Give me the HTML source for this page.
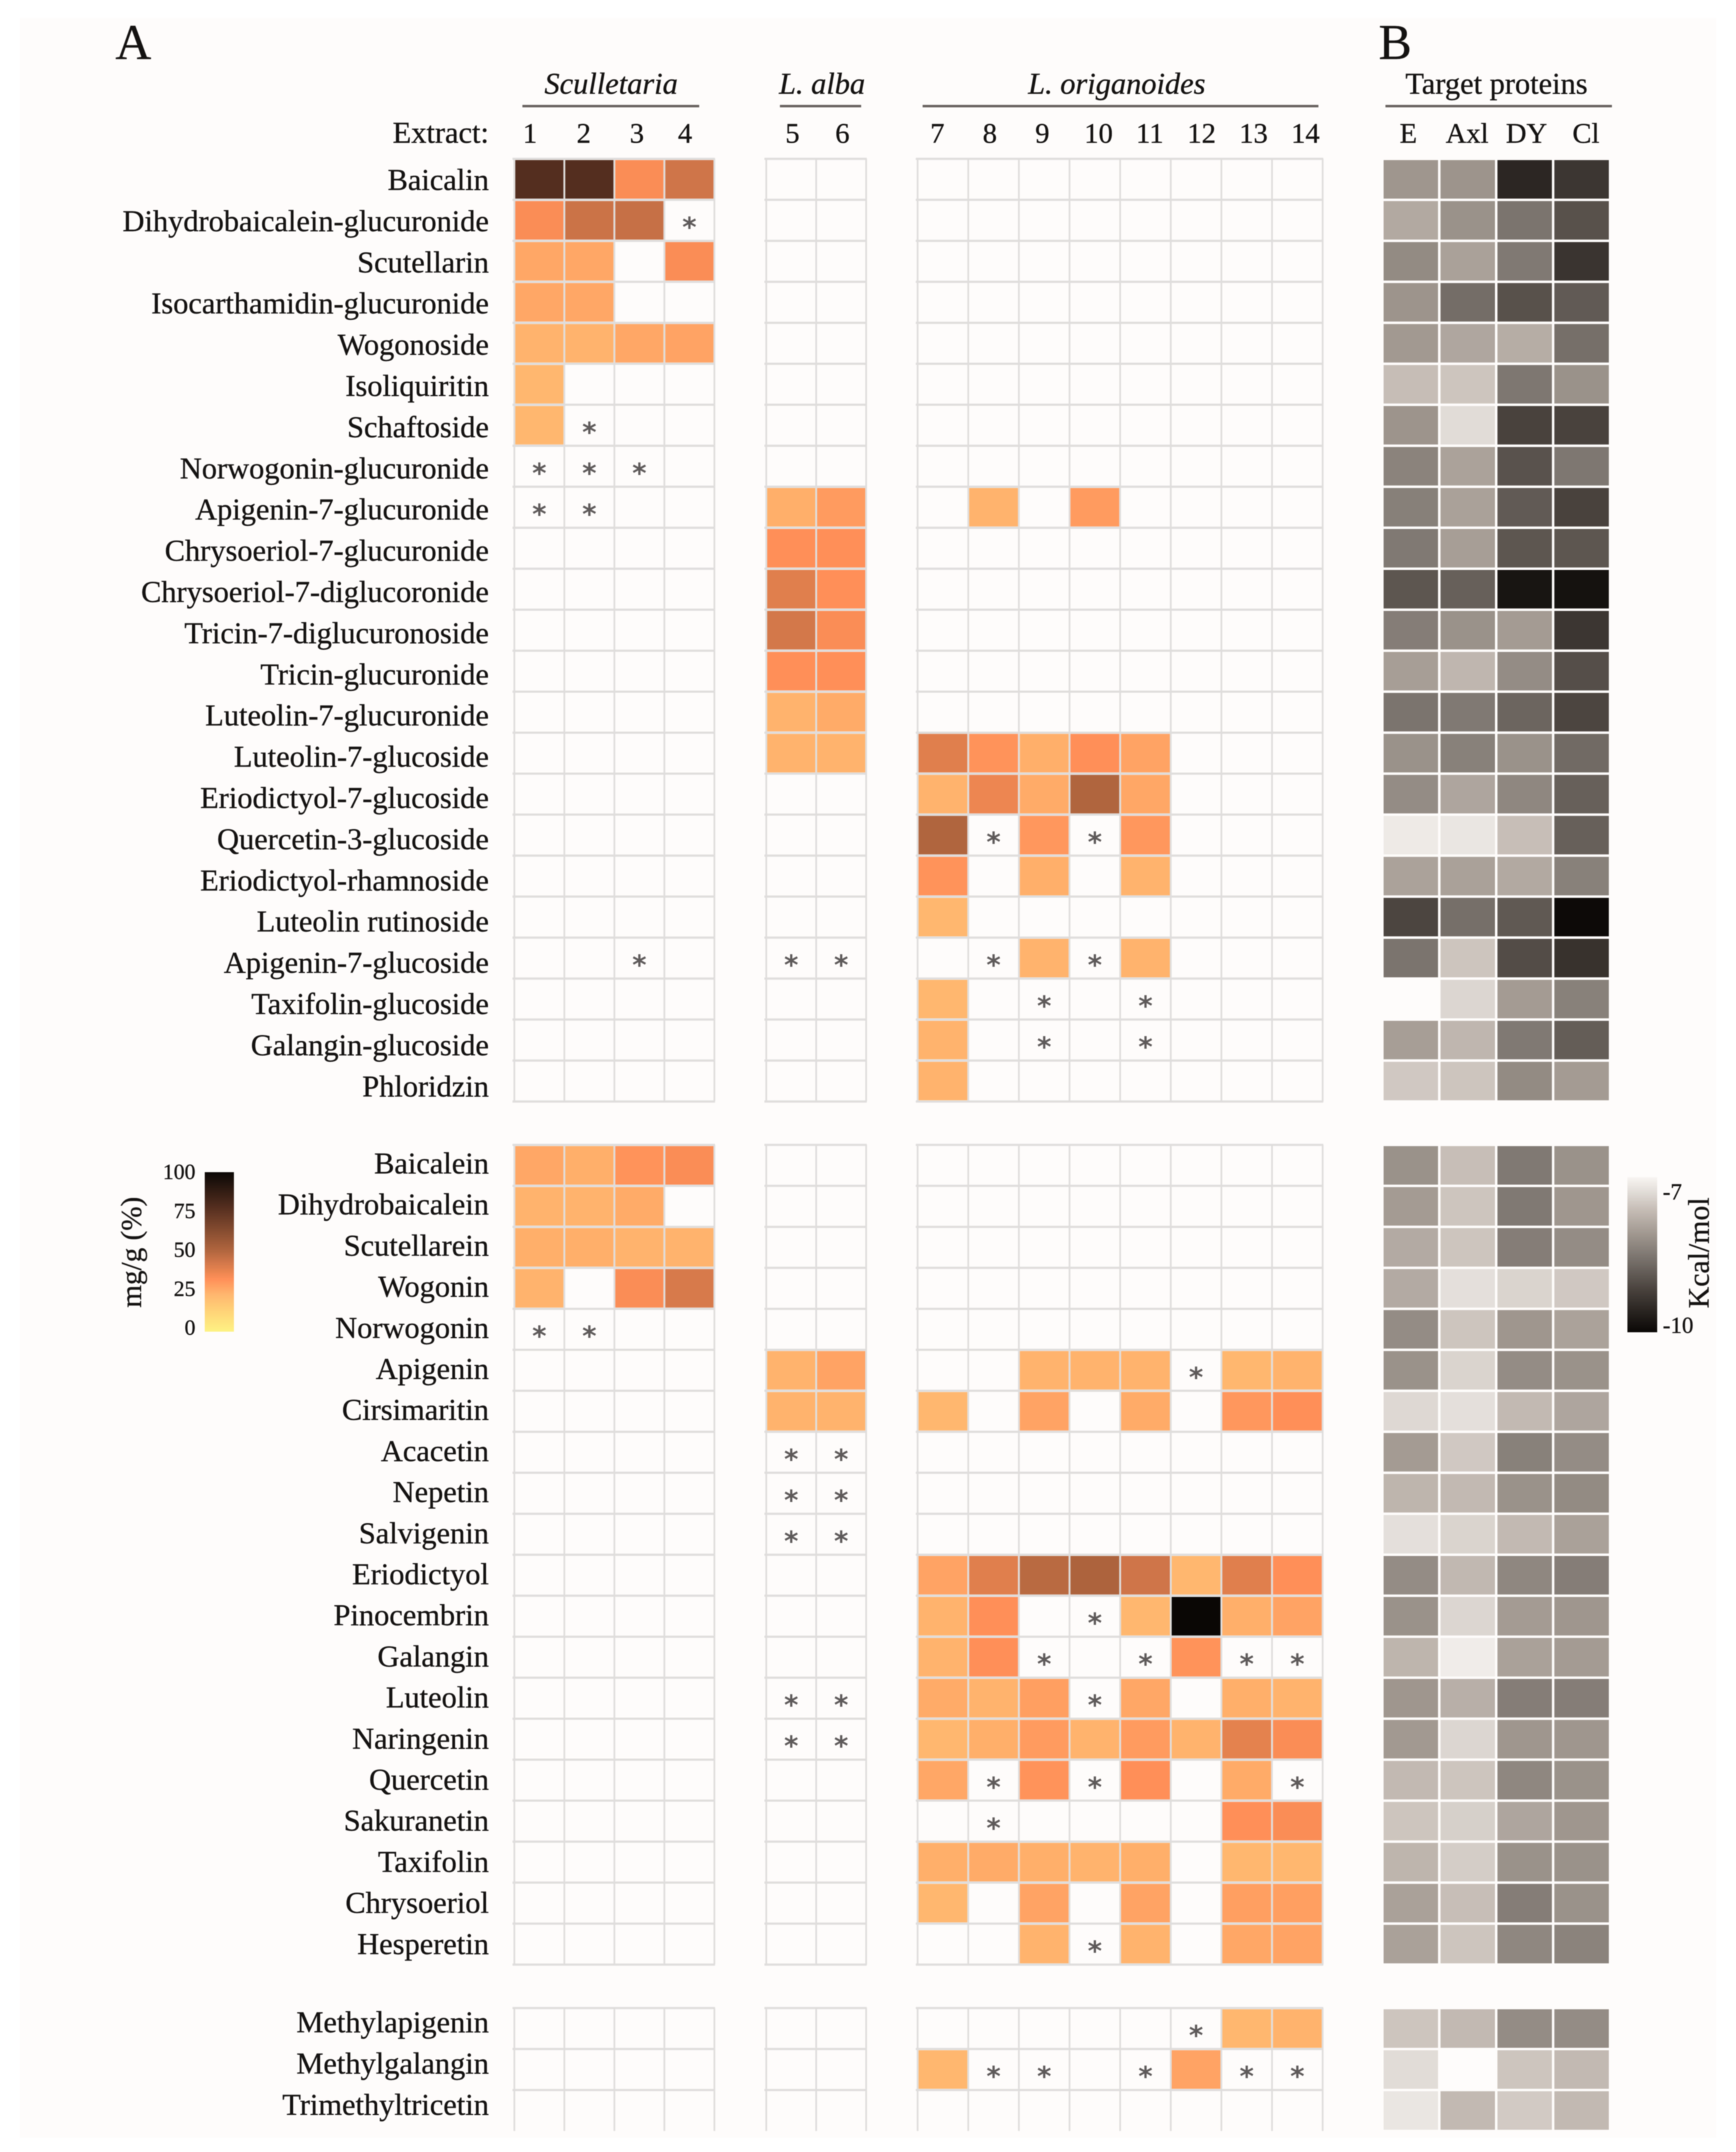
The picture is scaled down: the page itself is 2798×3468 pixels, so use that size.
<!DOCTYPE html>
<html lang="en">
<head>
<meta charset="utf-8">
<title>Flavonoid content and docking heatmaps</title>
<style>
html,body{margin:0;padding:0;background:#fff;width:2798px;height:3468px;overflow:hidden}
svg{display:block;filter:blur(0.7px)}
text{font-family:"Liberation Serif",serif;fill:#141211;stroke:#141211;stroke-width:0.45}
</style>
</head>
<body>
<svg id="chart" xmlns="http://www.w3.org/2000/svg" width="2798" height="3468" viewBox="0 0 2798 3468">
  <defs id="defs"></defs>
  <rect x="32" y="29" width="2734" height="3416" fill="#fefcfb"/>
  <text x="186" y="95" font-size="80">A</text>
  <text x="2222" y="95" font-size="80">B</text>
  <text x="985" y="151" font-size="49" font-style="italic" text-anchor="middle">Sculletaria</text>
  <text x="1325" y="151" font-size="49" font-style="italic" text-anchor="middle">L. alba</text>
  <text x="1800" y="151" font-size="49" font-style="italic" text-anchor="middle">L. origanoides</text>
  <text x="2412" y="151" font-size="49" text-anchor="middle">Target proteins</text>
  <rect x="842" y="169" width="285" height="4" fill="#68625f"/>
  <rect x="1257" y="169" width="131" height="4" fill="#68625f"/>
  <rect x="1487" y="169" width="638" height="4" fill="#68625f"/>
  <rect x="2233" y="169" width="365" height="4" fill="#68625f"/>
  <text x="788" y="230" font-size="49" text-anchor="end">Extract:</text>
  <rect x="330" y="1889" width="47" height="257" fill="url(#orangeGradient)"/>
  <rect x="2623" y="1897" width="48" height="250" fill="url(#grayGradient)"/>
  <text transform="translate(227,2018) rotate(-90)" font-size="47" text-anchor="middle">mg/g (%)</text>
  <text transform="translate(2754,2019) rotate(-90)" font-size="48" text-anchor="middle">Kcal/mol</text>
  <g id="layer-grid"></g>
  <g id="layer-cells"></g>
  <g id="layer-gray"></g>
  <g id="layer-marks"></g>
  <g id="layer-text"></g>
</svg>
<script>
const _ = null, T = '*';

const extractLabels = ['1','2','3','4','5','6','7','8','9','10','11','12','13','14'];
const proteinLabels = ['E','Axl','DY','Cl'];
const contentTicks = [0,25,50,75,100];
const energyTicks = [-7,-10];

const glycosideNames = ['Baicalin','Dihydrobaicalein-glucuronide','Scutellarin','Isocarthamidin-glucuronide','Wogonoside','Isoliquiritin','Schaftoside','Norwogonin-glucuronide','Apigenin-7-glucuronide','Chrysoeriol-7-glucuronide','Chrysoeriol-7-diglucoronide','Tricin-7-diglucuronoside','Tricin-glucuronide','Luteolin-7-glucuronide','Luteolin-7-glucoside','Eriodictyol-7-glucoside','Quercetin-3-glucoside','Eriodictyol-rhamnoside','Luteolin rutinoside','Apigenin-7-glucoside','Taxifolin-glucoside','Galangin-glucoside','Phloridzin'];
const aglyconeNames = ['Baicalein','Dihydrobaicalein','Scutellarein','Wogonin','Norwogonin','Apigenin','Cirsimaritin','Acacetin','Nepetin','Salvigenin','Eriodictyol','Pinocembrin','Galangin','Luteolin','Naringenin','Quercetin','Sakuranetin','Taxifolin','Chrysoeriol','Hesperetin'];
const methylatedNames = ['Methylapigenin','Methylgalangin','Trimethyltricetin'];

const glycosideValues = [
[78,78,34,44,_,_,_,_,_,_,_,_,_,_],
[34,45,46,T,_,_,_,_,_,_,_,_,_,_],
[27,27,_,34,_,_,_,_,_,_,_,_,_,_],
[27,27,_,_,_,_,_,_,_,_,_,_,_,_],
[24,24,27,28,_,_,_,_,_,_,_,_,_,_],
[23,_,_,_,_,_,_,_,_,_,_,_,_,_],
[23,T,_,_,_,_,_,_,_,_,_,_,_,_],
[T,T,T,_,_,_,_,_,_,_,_,_,_,_],
[T,T,_,_,25,30,_,24,_,30,_,_,_,_],
[_,_,_,_,33,33,_,_,_,_,_,_,_,_],
[_,_,_,_,40,33,_,_,_,_,_,_,_,_],
[_,_,_,_,43,34,_,_,_,_,_,_,_,_],
[_,_,_,_,33,33,_,_,_,_,_,_,_,_],
[_,_,_,_,24,26,_,_,_,_,_,_,_,_],
[_,_,_,_,24,24,40,32,25,33,28,_,_,_],
[_,_,_,_,_,_,24,37,26,51,27,_,_,_],
[_,_,_,_,_,_,51,T,31,T,31,_,_,_],
[_,_,_,_,_,_,32,_,25,_,24,_,_,_],
[_,_,_,_,_,_,23,_,_,_,_,_,_,_],
[_,_,T,_,T,T,_,T,24,T,24,_,_,_],
[_,_,_,_,_,_,23,_,T,_,T,_,_,_],
[_,_,_,_,_,_,24,_,T,_,T,_,_,_],
[_,_,_,_,_,_,24,_,_,_,_,_,_,_]
];
const aglyconeValues = [
[27,25,32,34,_,_,_,_,_,_,_,_,_,_],
[24,24,26,_,_,_,_,_,_,_,_,_,_,_],
[25,25,24,24,_,_,_,_,_,_,_,_,_,_],
[24,_,34,42,_,_,_,_,_,_,_,_,_,_],
[T,T,_,_,_,_,_,_,_,_,_,_,_,_],
[_,_,_,_,24,28,_,_,24,24,24,T,23,24],
[_,_,_,_,24,24,23,_,28,_,26,_,31,33],
[_,_,_,_,T,T,_,_,_,_,_,_,_,_],
[_,_,_,_,T,T,_,_,_,_,_,_,_,_],
[_,_,_,_,T,T,_,_,_,_,_,_,_,_],
[_,_,_,_,_,_,28,40,49,52,44,23,40,33],
[_,_,_,_,_,_,24,33,_,T,23,100,25,28],
[_,_,_,_,_,_,24,33,T,_,T,32,T,T],
[_,_,_,_,T,T,26,24,29,T,27,_,25,24],
[_,_,_,_,T,T,23,25,30,24,30,24,39,34],
[_,_,_,_,_,_,27,T,32,T,33,_,26,T],
[_,_,_,_,_,_,_,T,_,_,_,_,33,34],
[_,_,_,_,_,_,25,26,25,24,25,_,23,23],
[_,_,_,_,_,_,23,_,28,_,28,_,29,29],
[_,_,_,_,_,_,_,_,24,T,24,_,27,28]
];
const methylatedValues = [
[_,_,_,_,_,_,_,_,_,_,_,T,23,24],
[_,_,_,_,_,_,23,T,T,_,T,28,T,T],
[_,_,_,_,_,_,_,_,_,_,_,_,_,_]
];

const glycosideEnergy = [
[-8.11,-8.14,-9.56,-9.34],
[-7.88,-8.17,-8.55,-8.99],
[-8.26,-7.98,-8.49,-9.37],
[-8.14,-8.64,-8.99,-8.87],
[-8.08,-7.91,-7.83,-8.61],
[-7.63,-7.54,-8.51,-8.17],
[-8.14,-7.29,-9.18,-9.18],
[-8.36,-7.96,-8.97,-8.51],
[-8.40,-7.98,-8.87,-9.18],
[-8.49,-8.01,-8.93,-8.93],
[-8.93,-8.80,-9.81,-9.85],
[-8.43,-8.17,-8.05,-9.34],
[-8.01,-7.71,-8.24,-9.02],
[-8.55,-8.49,-8.74,-9.14],
[-8.17,-8.39,-8.17,-8.68],
[-8.24,-7.92,-8.30,-8.80],
[-7.13,-7.17,-7.61,-8.80],
[-7.96,-7.98,-7.88,-8.39],
[-9.14,-8.61,-8.89,-9.96],
[-8.55,-7.54,-9.05,-9.40],
[_,-7.35,-8.05,-8.39],
[-8.01,-7.71,-8.49,-8.84],
[-7.50,-7.54,-8.26,-8.05]
];
const aglyconeEnergy = [
[-8.17,-7.61,-8.49,-8.17],
[-8.05,-7.54,-8.49,-8.11],
[-7.86,-7.54,-8.43,-8.24],
[-7.86,-7.25,-7.38,-7.50],
[-8.24,-7.54,-8.11,-7.96],
[-8.17,-7.38,-8.24,-8.17],
[-7.33,-7.25,-7.67,-7.92],
[-8.05,-7.50,-8.39,-8.24],
[-7.73,-7.67,-8.17,-8.26],
[-7.25,-7.38,-7.67,-7.98],
[-8.24,-7.69,-8.30,-8.43],
[-8.17,-7.35,-8.05,-8.11],
[-7.73,-7.10,-7.98,-8.05],
[-8.11,-7.80,-8.43,-8.43],
[-8.07,-7.35,-8.11,-8.11],
[-7.67,-7.54,-8.30,-8.17],
[-7.54,-7.42,-7.92,-8.11],
[-7.73,-7.45,-8.17,-8.17],
[-7.98,-7.61,-8.43,-8.17],
[-7.98,-7.54,-8.30,-8.36]
];
const methylatedEnergy = [
[-7.54,-7.67,-8.24,-8.24],
[-7.29,_,-7.54,-7.67],
[-7.17,-7.67,-7.48,-7.67]
];

const blocks = [
  {key:'glycoside', names:glycosideNames, values:glycosideValues, energy:glycosideEnergy, top:256, labelY:306, labelStep:66.4, closeBottom:true},
  {key:'aglycone', names:aglyconeNames, values:aglyconeValues, energy:aglyconeEnergy, top:1845, labelY:1891, labelStep:66.2, closeBottom:true},
  {key:'methylated', names:methylatedNames, values:methylatedValues, energy:methylatedEnergy, top:3236, labelY:3275, labelStep:66.5, closeBottom:false}
];
const columnGroups = [
  {first:0, count:4, left:829, band:80.6},
  {first:4, count:2, left:1235, band:80.5},
  {first:6, count:8, left:1479, band:81.6}
];
const extractCenterShift = [-15,-9,-4,-7,2,2,-9,-6,-3,6,7,9,11,13];
const proteinCenterShift = [-4,-1,3,7];
const ROW = 66.05, P_LEFT = 2228, P_BAND = 91.75;

const NS = 'http://www.w3.org/2000/svg';
const gridLayer = document.getElementById('layer-grid');
const cellLayer = document.getElementById('layer-cells');
const grayLayer = document.getElementById('layer-gray');
const markLayer = document.getElementById('layer-marks');
const textLayer = document.getElementById('layer-text');
const defs = document.getElementById('defs');

function make(tag, attrs, parent) {
  const el = document.createElementNS(NS, tag);
  for (const k in attrs) el.setAttribute(k, attrs[k]);
  parent.appendChild(el);
  return el;
}
function hexToRgb(h){return [1,3,5].map(i=>parseInt(h.substr(i,2),16));}
function ramp(stops, v){
  if (v <= stops[0][0]) return stops[0][1];
  for (let i=1;i<stops.length;i++){
    if (v <= stops[i][0]){
      const a=stops[i-1], b=stops[i], t=(v-a[0])/(b[0]-a[0]);
      const ca=hexToRgb(a[1]), cb=hexToRgb(b[1]);
      return 'rgb('+ca.map((c,j)=>Math.round(c+(cb[j]-c)*t)).join(',')+')';
    }
  }
  return stops[stops.length-1][1];
}
const orangeStops = [[0,'#fdf283'],[12,'#ffd578'],[23,'#ffb76f'],[33,'#ff8f58'],[38,'#e8844f'],[44,'#cf7549'],[51,'#b0653e'],[78,'#542e1f'],[100,'#0a0705']];
const grayStops = [[-10,'#0a0705'],[-9.2,'#47403b'],[-8.5,'#7f7872'],[-8.1,'#a0978f'],[-7.6,'#c8bfb8'],[-7.3,'#e0dbd6'],[-7,'#f8f5f2']];
const contentColor = v => ramp(orangeStops, v);
const energyColor = v => ramp(grayStops, v);

function gradient(id, stops, lo, hi){
  const g = make('linearGradient',{id:id,x1:0,y1:1,x2:0,y2:0},defs);
  stops.forEach(s=>{ make('stop',{offset:(s[0]-lo)/(hi-lo),'stop-color':s[1]},g); });
}
gradient('orangeGradient', orangeStops, 0, 100);
gradient('grayGradient', grayStops, -10, -7);

function columnGroupOf(c){ return columnGroups.find(g => c>=g.first && c<g.first+g.count); }
function colX(c){ const g=columnGroupOf(c); return g.left+(c-g.first)*g.band; }
function colBand(c){ return columnGroupOf(c).band; }
function rowY(block,r){ return block.top+r*ROW; }
function proteinX(c){ return P_LEFT+c*P_BAND; }

blocks.forEach(block=>{
  const rows = block.names.length;
  columnGroups.forEach(g=>{
    const x1=g.left+g.count*g.band;
    for(let r=0;r<=rows;r++){
      if(r===rows && !block.closeBottom) continue;
      const y=rowY(block,r);
      const line=make('line',{x1:g.left-3,x2:x1+1,y1:y,y2:y,stroke:'#dfdddc','stroke-width':3.5},gridLayer);
      
      
    }
    for(let c=0;c<=g.count;c++){
      const x=g.left+c*g.band;
      const line=make('line',{x1:x,x2:x,y1:block.top,y2:rowY(block,rows),stroke:'#dfdddc','stroke-width':2.8},gridLayer);
      
      
    }
  });

  block.names.forEach((name,r)=>{
    const label=make('text',{x:788,y:block.labelY+r*block.labelStep,'font-size':49,'text-anchor':'end'},textLayer);
    label.textContent=name;
    
    

    block.values[r].forEach((v,c)=>{
      if(v===null) return;
      const x=colX(c), w=colBand(c), y=rowY(block,r);
      if(v==='*'){
        const star=make('text',{x:x+w/2,y:y+ROW/2+26,'font-size':44,'font-weight':'bold','text-anchor':'middle',style:'font-family:"DejaVu Sans",sans-serif;fill:#5e5a5a;stroke:none'},markLayer);
        star.textContent='*';
        
        
      } else {
        const cell=make('rect',{x:x+1.5,y:y+2,width:w-3,height:ROW-4,fill:contentColor(v)},cellLayer);
        
        
      }
    });

    block.energy[r].forEach((v,c)=>{
      if(v===null) return;
      const cell=make('rect',{x:proteinX(c)+2,y:rowY(block,r)+2,width:P_BAND-4,height:ROW-4,fill:energyColor(v)},grayLayer);
      
      
    });
  });
});

extractLabels.forEach((t,c)=>{
  const el=make('text',{x:colX(c)+colBand(c)/2+extractCenterShift[c],y:230,'font-size':46,'text-anchor':'middle'},textLayer);
  el.textContent=t;
  
  
});
proteinLabels.forEach((t,c)=>{
  const el=make('text',{x:proteinX(c)+P_BAND/2+proteinCenterShift[c],y:230,'font-size':46,'text-anchor':'middle'},textLayer);
  el.textContent=t;
  
  
});
contentTicks.forEach(v=>{
  const el=make('text',{x:315,y:2139-v*2.51+12,'font-size':35,'text-anchor':'end'},textLayer);
  el.textContent=String(v);
  
  
});
energyTicks.forEach(v=>{
  const el=make('text',{x:2680,y:2135-(v+10)*71.7+13,'font-size':37},textLayer);
  el.textContent=String(v);
  
  
});
</script>
</body>
</html>
